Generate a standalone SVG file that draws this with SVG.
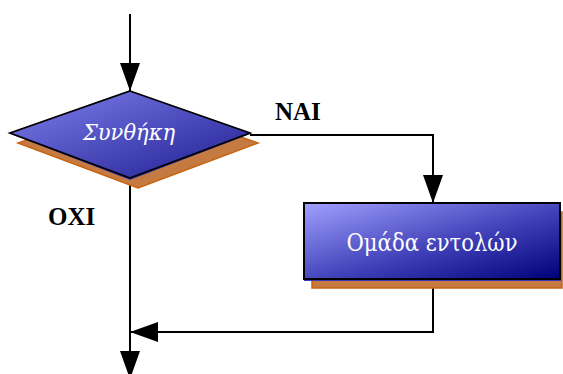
<svg xmlns="http://www.w3.org/2000/svg" width="563" height="374" viewBox="0 0 563 374">
  <defs>
    <linearGradient id="gDiamond" x1="0" y1="0" x2="1" y2="1">
      <stop offset="0" stop-color="#8080ee"/>
      <stop offset="1" stop-color="#1c1c90"/>
    </linearGradient>
    <linearGradient id="gBox" x1="0" y1="0" x2="1" y2="1">
      <stop offset="0" stop-color="#a0a0ff"/>
      <stop offset="0.55" stop-color="#4040b8"/>
      <stop offset="1" stop-color="#000078"/>
    </linearGradient>
    <marker id="arrow" viewBox="0 0 28 20" refX="28" refY="10" markerWidth="28" markerHeight="20" markerUnits="userSpaceOnUse" orient="auto">
      <path d="M0,0 L28,10 L0,20 Z" fill="#000"/>
    </marker>
    <style>
      .line { fill: none; stroke: #000; stroke-width: 2; }
      .shadow { fill: #c47a40; stroke: #c8640f; stroke-width: 1.5; }
      .label { font-family: "Liberation Serif", "DejaVu Serif", serif; font-weight: bold; font-size: 25px; fill: #000; }
      .inner { font-family: "DejaVu Serif", "Liberation Serif", serif; fill: #fff; text-anchor: middle; }
    </style>
  </defs>

  <!-- connectors -->
  <g id="connectors">
    <path class="line" d="M130,14 L130,91" marker-end="url(#arrow)"/>
    <path class="line" d="M250,135 L433,135 L433,203" marker-end="url(#arrow)"/>
    <path class="line" d="M433,279 L433,332 L130,332" marker-end="url(#arrow)"/>
    <path class="line" d="M130,179 L130,379" marker-end="url(#arrow)"/>
  </g>

  <!-- decision -->
  <g id="condition">
    <polygon class="shadow" points="138,101 258,143 138,188 18,143"/>
    <polygon points="130,92 250,134 130,180 11,134" fill="#3a3ab8"/>
    <polygon points="130,91 250,133 130,178 10,133" fill="url(#gDiamond)" stroke="#000" stroke-width="1.8" stroke-linejoin="miter"/>
    <text class="inner" x="129" y="140" font-size="22" font-style="italic" textLength="92" lengthAdjust="spacingAndGlyphs">Συνθήκη</text>
  </g>

  <!-- process -->
  <g id="commands">
    <rect class="shadow" x="312" y="212" width="250" height="76"/>
    <rect x="304" y="204" width="257" height="77" fill="#3a3ab8"/>
    <rect x="304" y="203" width="256" height="76" fill="url(#gBox)" stroke="#000" stroke-width="2"/>
    <text class="inner" x="432" y="251" font-size="25" textLength="171" lengthAdjust="spacingAndGlyphs">Ομάδα εντολών</text>
  </g>

  <!-- branch labels -->
  <text class="label" x="275" y="120">NAI</text>
  <text class="label" x="48" y="225">OXI</text>
</svg>
